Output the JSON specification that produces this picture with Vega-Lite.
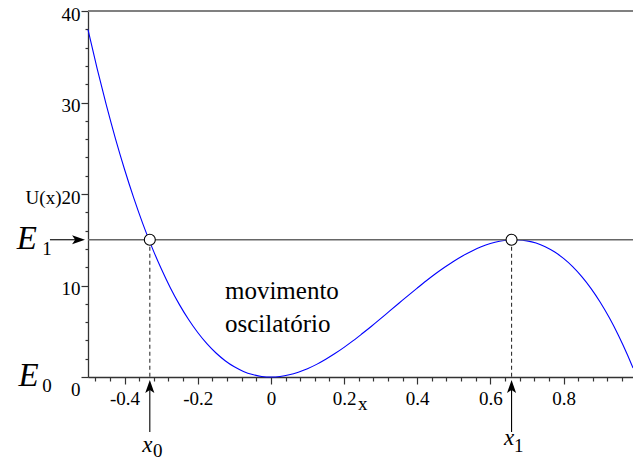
{
  "$schema": "https://vega.github.io/schema/vega-lite/v6.json",
  "width": 545,
  "height": 366,
  "autosize": {"type": "none"},
  "padding": {"left": 88, "top": 11, "right": 0, "bottom": 83},
  "background": "white",
  "config": {
    "view": {"stroke": null},
    "font": "Liberation Serif, Times New Roman, serif",
    "text": {"font": "Liberation Serif, Times New Roman, serif"},
    "axis": {"grid": false, "title": null, "labelFont": "Liberation Serif, Times New Roman, serif", "labelColor": "#000", "tickColor": "#333", "domainColor": "#333", "domainWidth": 1.3, "tickWidth": 1.2}
  },
  "datasets": {
    "potential": [
      {"x": -0.5, "U": 37.97}, {"x": -0.475, "U": 33.70}, {"x": -0.45, "U": 29.73}, {"x": -0.425, "U": 26.06},
      {"x": -0.4, "U": 22.68}, {"x": -0.375, "U": 19.58}, {"x": -0.35, "U": 16.74}, {"x": -0.325, "U": 14.17},
      {"x": -0.3, "U": 11.85}, {"x": -0.275, "U": 9.76}, {"x": -0.25, "U": 7.91}, {"x": -0.225, "U": 6.28},
      {"x": -0.2, "U": 4.86}, {"x": -0.175, "U": 3.64}, {"x": -0.15, "U": 2.62}, {"x": -0.125, "U": 1.78},
      {"x": -0.1, "U": 1.11}, {"x": -0.075, "U": 0.61}, {"x": -0.05, "U": 0.27}, {"x": -0.025, "U": 0.06},
      {"x": 0, "U": 0}, {"x": 0.025, "U": 0.06}, {"x": 0.05, "U": 0.24}, {"x": 0.075, "U": 0.53},
      {"x": 0.1, "U": 0.91}, {"x": 0.125, "U": 1.38}, {"x": 0.15, "U": 1.94}, {"x": 0.175, "U": 2.56},
      {"x": 0.2, "U": 3.24}, {"x": 0.225, "U": 3.97}, {"x": 0.25, "U": 4.75}, {"x": 0.275, "U": 5.55},
      {"x": 0.3, "U": 6.38}, {"x": 0.325, "U": 7.22}, {"x": 0.35, "U": 8.06}, {"x": 0.375, "U": 8.90},
      {"x": 0.4, "U": 9.72}, {"x": 0.425, "U": 10.52}, {"x": 0.45, "U": 11.28}, {"x": 0.475, "U": 11.99},
      {"x": 0.5, "U": 12.66}, {"x": 0.525, "U": 13.26}, {"x": 0.55, "U": 13.78}, {"x": 0.575, "U": 14.23},
      {"x": 0.6, "U": 14.58}, {"x": 0.625, "U": 14.83}, {"x": 0.65, "U": 14.97}, {"x": 0.6667, "U": 15.0},
      {"x": 0.675, "U": 14.99}, {"x": 0.7, "U": 14.88}, {"x": 0.725, "U": 14.64}, {"x": 0.75, "U": 14.24},
      {"x": 0.775, "U": 13.68}, {"x": 0.8, "U": 12.96}, {"x": 0.825, "U": 12.06}, {"x": 0.85, "U": 10.97},
      {"x": 0.875, "U": 9.69}, {"x": 0.9, "U": 8.20}, {"x": 0.925, "U": 6.50}, {"x": 0.95, "U": 4.57},
      {"x": 0.975, "U": 2.41}, {"x": 0.99, "U": 0.99}
    ],
    "turning": [
      {"x": -0.331, "U": 15, "base": 0, "shaftTop": -0.9, "shaftBottom": -6.0, "head": -1.16},
      {"x": 0.658, "U": 15, "base": 0, "shaftTop": -0.9, "shaftBottom": -6.0, "head": -1.16}
    ],
    "bigLetters": [
      {"x": -0.695, "U": 14.0, "t": "E"},
      {"x": -0.690, "U": -0.95, "t": "E"}
    ],
    "smallLetters": [
      {"x": -0.352, "U": -8.2, "t": "x"},
      {"x": 0.637, "U": -7.43, "t": "x"}
    ],
    "subscripts": [
      {"x": -0.625, "U": 13.3, "t": "1"},
      {"x": -0.625, "U": -1.6, "t": "0"},
      {"x": -0.322, "U": -8.74, "t": "0"},
      {"x": 0.665, "U": -8.2, "t": "1"}
    ],
    "notes": [
      {"x": -0.1255, "U": 8.52, "t": "movimento"},
      {"x": -0.1255, "U": 4.97, "t": "oscilatório"}
    ]
  },
  "layer": [
    {
      "data": {"name": "potential"},
      "mark": {"type": "line", "color": "#0000ff", "strokeWidth": 1.1, "interpolate": "monotone"},
      "encoding": {
        "x": {"field": "x", "type": "quantitative", "scale": {"domain": [-0.5, 0.99], "nice": false, "zero": false},
          "axis": {"orient": "bottom", "values": [-0.4, -0.2, 0, 0.2, 0.4, 0.6, 0.8], "labelExpr": "'' + datum.value", "tickSize": 7, "labelPadding": 5, "labelFontSize": 19, "labelFlush": false}},
        "y": {"field": "U", "type": "quantitative", "scale": {"domain": [0, 40], "nice": false},
          "axis": {"orient": "left", "values": [0, 10, 20, 30, 40], "labelExpr": "datum.value === 20 ? 'U(x)20' : datum.label", "tickSize": 7, "labelPadding": 1, "labelFontSize": 19, "labelFlush": false,
            "labelOffset": {"condition": {"test": "datum.value === 0", "value": 12}, "value": 3}}}
      }
    },
    {
      "data": {"values": [{"U": 40}]},
      "mark": {"type": "rule", "color": "#808080", "strokeWidth": 2},
      "encoding": {"y": {"field": "U", "type": "quantitative", "axis": null}}
    },
    {
      "data": {"values": [{"U": 15}]},
      "mark": {"type": "rule", "color": "#666666", "strokeWidth": 1.5},
      "encoding": {"y": {"field": "U", "type": "quantitative", "axis": null}}
    },
    {
      "data": {"name": "turning"},
      "mark": {"type": "rule", "color": "#333", "strokeWidth": 1.1, "strokeDash": [4, 3]},
      "encoding": {
        "x": {"field": "x", "type": "quantitative", "axis": null},
        "y": {"field": "U", "type": "quantitative", "axis": null},
        "y2": {"field": "base"}
      }
    },
    {
      "data": {"name": "turning"},
      "mark": {"type": "rule", "color": "#000", "strokeWidth": 1.1},
      "encoding": {
        "x": {"field": "x", "type": "quantitative", "axis": null},
        "y": {"field": "shaftTop", "type": "quantitative", "axis": null},
        "y2": {"field": "shaftBottom"}
      }
    },
    {
      "data": {"name": "turning"},
      "mark": {"type": "point", "shape": "M0,-1L0.6,0.7L0,0.3L-0.6,0.7Z", "filled": true, "color": "#000", "size": 230, "opacity": 1},
      "encoding": {
        "x": {"field": "x", "type": "quantitative", "axis": null},
        "y": {"field": "head", "type": "quantitative", "axis": null}
      }
    },
    {
      "data": {"values": [{"from": -0.604, "to": -0.53, "U": 15}]},
      "mark": {"type": "rule", "color": "#000", "strokeWidth": 1.1},
      "encoding": {
        "x": {"field": "from", "type": "quantitative", "axis": null},
        "x2": {"field": "to"},
        "y": {"field": "U", "type": "quantitative", "axis": null}
      }
    },
    {
      "data": {"values": [{"head": -0.529, "U": 15}]},
      "mark": {"type": "point", "shape": "M1,0L-0.7,-0.6L-0.3,0L-0.7,0.6Z", "filled": true, "color": "#000", "size": 230, "opacity": 1},
      "encoding": {
        "x": {"field": "head", "type": "quantitative", "axis": null},
        "y": {"field": "U", "type": "quantitative", "axis": null}
      }
    },
    {
      "data": {"name": "turning"},
      "mark": {"type": "point", "shape": "circle", "filled": true, "fill": "white", "stroke": "#000", "strokeWidth": 1.1, "size": 121, "opacity": 1},
      "encoding": {
        "x": {"field": "x", "type": "quantitative",
          "axis": {"orient": "bottom", "values": [-0.48, -0.44, -0.36, -0.32, -0.28, -0.24, -0.16, -0.12, -0.08, -0.04, 0.04, 0.08, 0.12, 0.16, 0.24, 0.28, 0.32, 0.36, 0.44, 0.48, 0.52, 0.56, 0.64, 0.68, 0.72, 0.76, 0.84, 0.88, 0.92, 0.96], "labels": false, "domain": false, "tickSize": 4}},
        "y": {"field": "U", "type": "quantitative",
          "axis": {"orient": "left", "values": [2, 4, 6, 8, 12, 14, 16, 18, 22, 24, 26, 28, 32, 34, 36, 38], "labels": false, "domain": false, "tickSize": 3}}
      }
    },
    {
      "data": {"name": "bigLetters"},
      "mark": {"type": "text", "fontStyle": "italic", "fontSize": 33, "align": "left", "baseline": "alphabetic", "color": "#000"},
      "encoding": {
        "x": {"field": "x", "type": "quantitative", "axis": null},
        "y": {"field": "U", "type": "quantitative", "axis": null},
        "text": {"field": "t"}
      }
    },
    {
      "data": {"name": "smallLetters"},
      "mark": {"type": "text", "fontStyle": "italic", "fontSize": 23, "align": "left", "baseline": "alphabetic", "color": "#000"},
      "encoding": {
        "x": {"field": "x", "type": "quantitative", "axis": null},
        "y": {"field": "U", "type": "quantitative", "axis": null},
        "text": {"field": "t"}
      }
    },
    {
      "data": {"name": "subscripts"},
      "mark": {"type": "text", "fontSize": 19, "align": "left", "baseline": "alphabetic", "color": "#000"},
      "encoding": {
        "x": {"field": "x", "type": "quantitative", "axis": null},
        "y": {"field": "U", "type": "quantitative", "axis": null},
        "text": {"field": "t"}
      }
    },
    {
      "data": {"name": "notes"},
      "mark": {"type": "text", "fontSize": 25, "align": "left", "baseline": "alphabetic", "color": "#000"},
      "encoding": {
        "x": {"field": "x", "type": "quantitative", "axis": null},
        "y": {"field": "U", "type": "quantitative", "axis": null},
        "text": {"field": "t"}
      }
    },
    {
      "data": {"values": [{"x": 0.238, "U": -3.6, "t": "x"}]},
      "mark": {"type": "text", "fontSize": 19, "align": "left", "baseline": "alphabetic", "color": "#000"},
      "encoding": {
        "x": {"field": "x", "type": "quantitative", "axis": null},
        "y": {"field": "U", "type": "quantitative", "axis": null},
        "text": {"field": "t"}
      }
    }
  ],
  "resolve": {"axis": {"x": "independent", "y": "independent"}}
}
